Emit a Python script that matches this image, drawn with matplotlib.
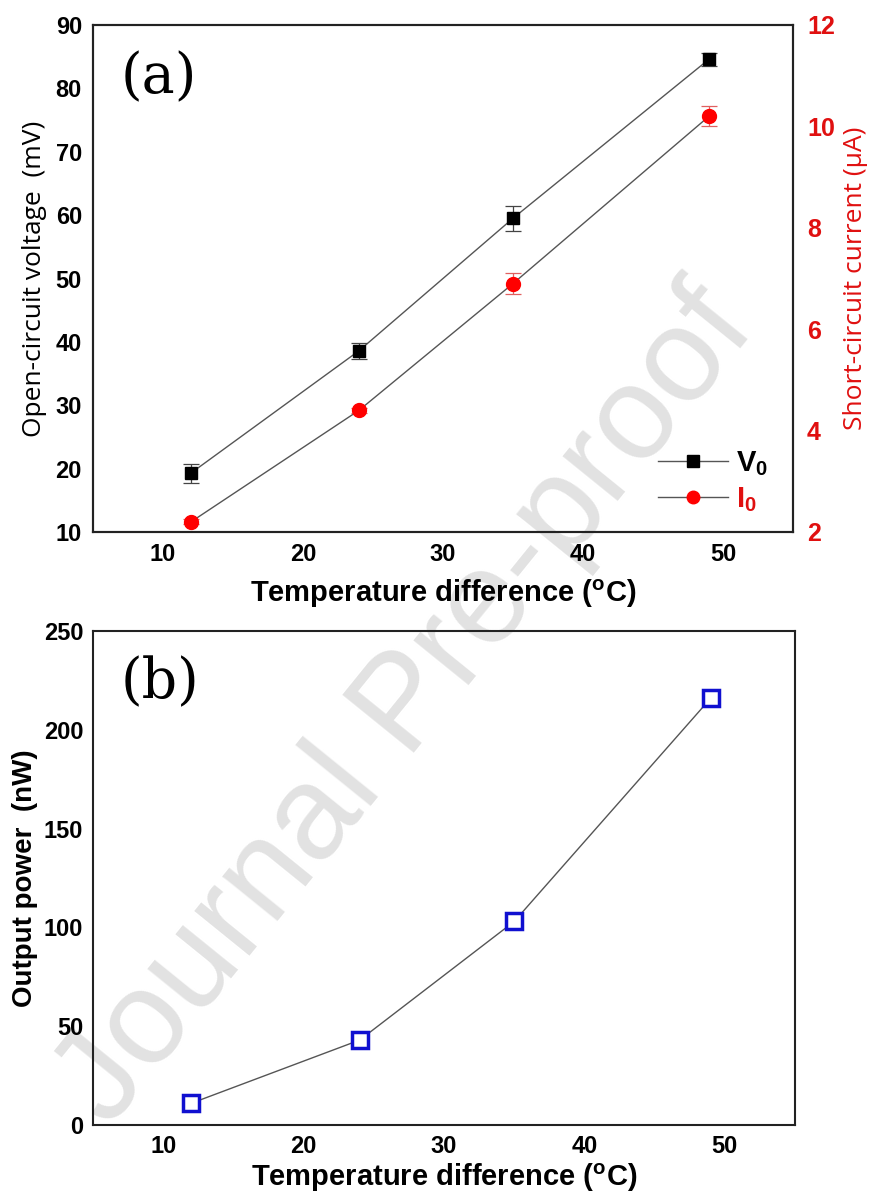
import matplotlib
matplotlib.use("Agg")
import matplotlib.pyplot as plt

# ---- data ----
temp_diff = [12, 24, 35, 49]
voc_mV = [19.3, 38.6, 59.5, 84.6]
voc_err = [1.5, 1.3, 2.0, 1.0]
isc_uA = [2.2, 4.4, 6.9, 10.2]
isc_err = [0.05, 0.05, 0.2, 0.2]
power_nW = [11, 43, 103, 216]

x_ticks = [10, 20, 30, 40, 50]
v_ticks = [10, 20, 30, 40, 50, 60, 70, 80, 90]
i_ticks = [2, 4, 6, 8, 10, 12]
p_ticks = [0, 50, 100, 150, 200, 250]

plt.rcParams['font.family'] = ['Liberation Sans', 'DejaVu Sans']
plt.rcParams['mathtext.fontset'] = 'custom'
plt.rcParams['mathtext.rm'] = 'Liberation Sans'
plt.rcParams['mathtext.bf'] = 'Liberation Sans:bold'
plt.rcParams['mathtext.it'] = 'Liberation Sans:italic'

W, H = 883, 1199
fig = plt.figure(figsize=(W / 100, H / 100), dpi=100)

def frac_box(l, t, r, b):
    return [l / W, 1 - b / H, (r - l) / W, (b - t) / H]

spine_c = '#222222'
line_c = '#555555'
tick_fs = 17
red = '#e01010'

# ---- (a) ----
ax1 = fig.add_axes(frac_box(93, 25, 793, 532))
ax1.set_facecolor('none')
ax1.errorbar(temp_diff, voc_mV, yerr=voc_err, fmt='s', color='black', ms=9,
             ecolor='#444444', elinewidth=0.9, capsize=6, capthick=0.9, zorder=4)
ax1.plot(temp_diff, voc_mV, '-', color=line_c, lw=1.0, zorder=3)
ax1.set_xlim(5, 55)
ax1.set_ylim(10, 90)
ax1.set_xticks(x_ticks)
ax1.set_yticks(v_ticks)
ax1.tick_params(length=0, labelsize=tick_fs, pad=8)
for lab in ax1.get_xticklabels() + ax1.get_yticklabels():
    lab.set_fontweight('bold')
ax1.set_ylabel('Open-circuit voltage  (mV)', fontsize=19, family='Open Sans',
               labelpad=6)
ax1.set_xlabel(r'Temperature difference ($^\mathbf{o}$C)', fontsize=21,
               fontweight='bold', labelpad=8)
for s in ax1.spines.values():
    s.set_linewidth(1.5)
    s.set_color(spine_c)
ax1.text(0.04, 0.95, '(a)', transform=ax1.transAxes, fontsize=40,
         family='DejaVu Serif', va='top', ha='left')

ax2 = ax1.twinx()
ax2.set_facecolor('none')
ax2.errorbar(temp_diff, isc_uA, yerr=isc_err, fmt='o', color='red', ms=10,
             ecolor='#e06060', elinewidth=0.9, capsize=6, capthick=0.9, zorder=4)
ax2.plot(temp_diff, isc_uA, '-', color=line_c, lw=1.0, zorder=3)
ax2.set_ylim(2, 12)
ax2.set_yticks(i_ticks)
ax2.tick_params(length=0, labelsize=tick_fs + 1, pad=10, colors=red)
for lab in ax2.get_yticklabels():
    lab.set_fontweight('bold')
ax2.set_ylabel('Short-circuit current (μA)', fontsize=19, family='Open Sans',
               color=red, labelpad=6)
for s in ax2.spines.values():
    s.set_linewidth(1.5)
    s.set_color(spine_c)

h1, = ax1.plot([], [], '-s', color=line_c, mfc='black', mec='black', ms=8, lw=1.0)
h2, = ax1.plot([], [], '-o', color=line_c, mfc='red', mec='red', ms=9, lw=1.0)
leg = ax1.legend([h1, h2], [r'$\mathbf{V}_\mathbf{0}$', r'$\mathbf{I}_\mathbf{0}$'],
                 loc='lower right', frameon=False, fontsize=21,
                 labelcolor=['black', red], handlelength=2.4,
                 handletextpad=0.3, borderaxespad=0.2, labelspacing=0.25,
                 bbox_to_anchor=(0.99, 0.0))

# ---- (b) ----
ax3 = fig.add_axes(frac_box(93, 631, 795, 1125))
ax3.set_facecolor('none')
ax3.plot(temp_diff, power_nW, '-', color=line_c, lw=1.0, zorder=3)
ax3.plot(temp_diff, power_nW, 's', ms=12, mfc='white', mec='#1010d0',
         mew=2.5, zorder=4)
ax3.set_xlim(5, 55)
ax3.set_ylim(0, 250)
ax3.set_xticks(x_ticks)
ax3.set_yticks(p_ticks)
ax3.tick_params(length=0, labelsize=tick_fs, pad=7)
for lab in ax3.get_xticklabels() + ax3.get_yticklabels():
    lab.set_fontweight('bold')
ax3.set_ylabel('Output power  (nW)', fontsize=20, fontweight='bold', labelpad=4)
ax3.set_xlabel(r'Temperature difference ($^\mathbf{o}$C)', fontsize=21,
               fontweight='bold', labelpad=3)
for s in ax3.spines.values():
    s.set_linewidth(1.5)
    s.set_color(spine_c)
ax3.text(0.04, 0.95, '(b)', transform=ax3.transAxes, fontsize=40,
         family='DejaVu Serif', va='top', ha='left')

# ---- watermark ----
fig.text(0.46, 0.41, 'Journal Pre-proof', fontsize=96, color='#e2e2e2',
         rotation=51, ha='center', va='center', zorder=-5)

fig.savefig('out.png', dpi=100)
